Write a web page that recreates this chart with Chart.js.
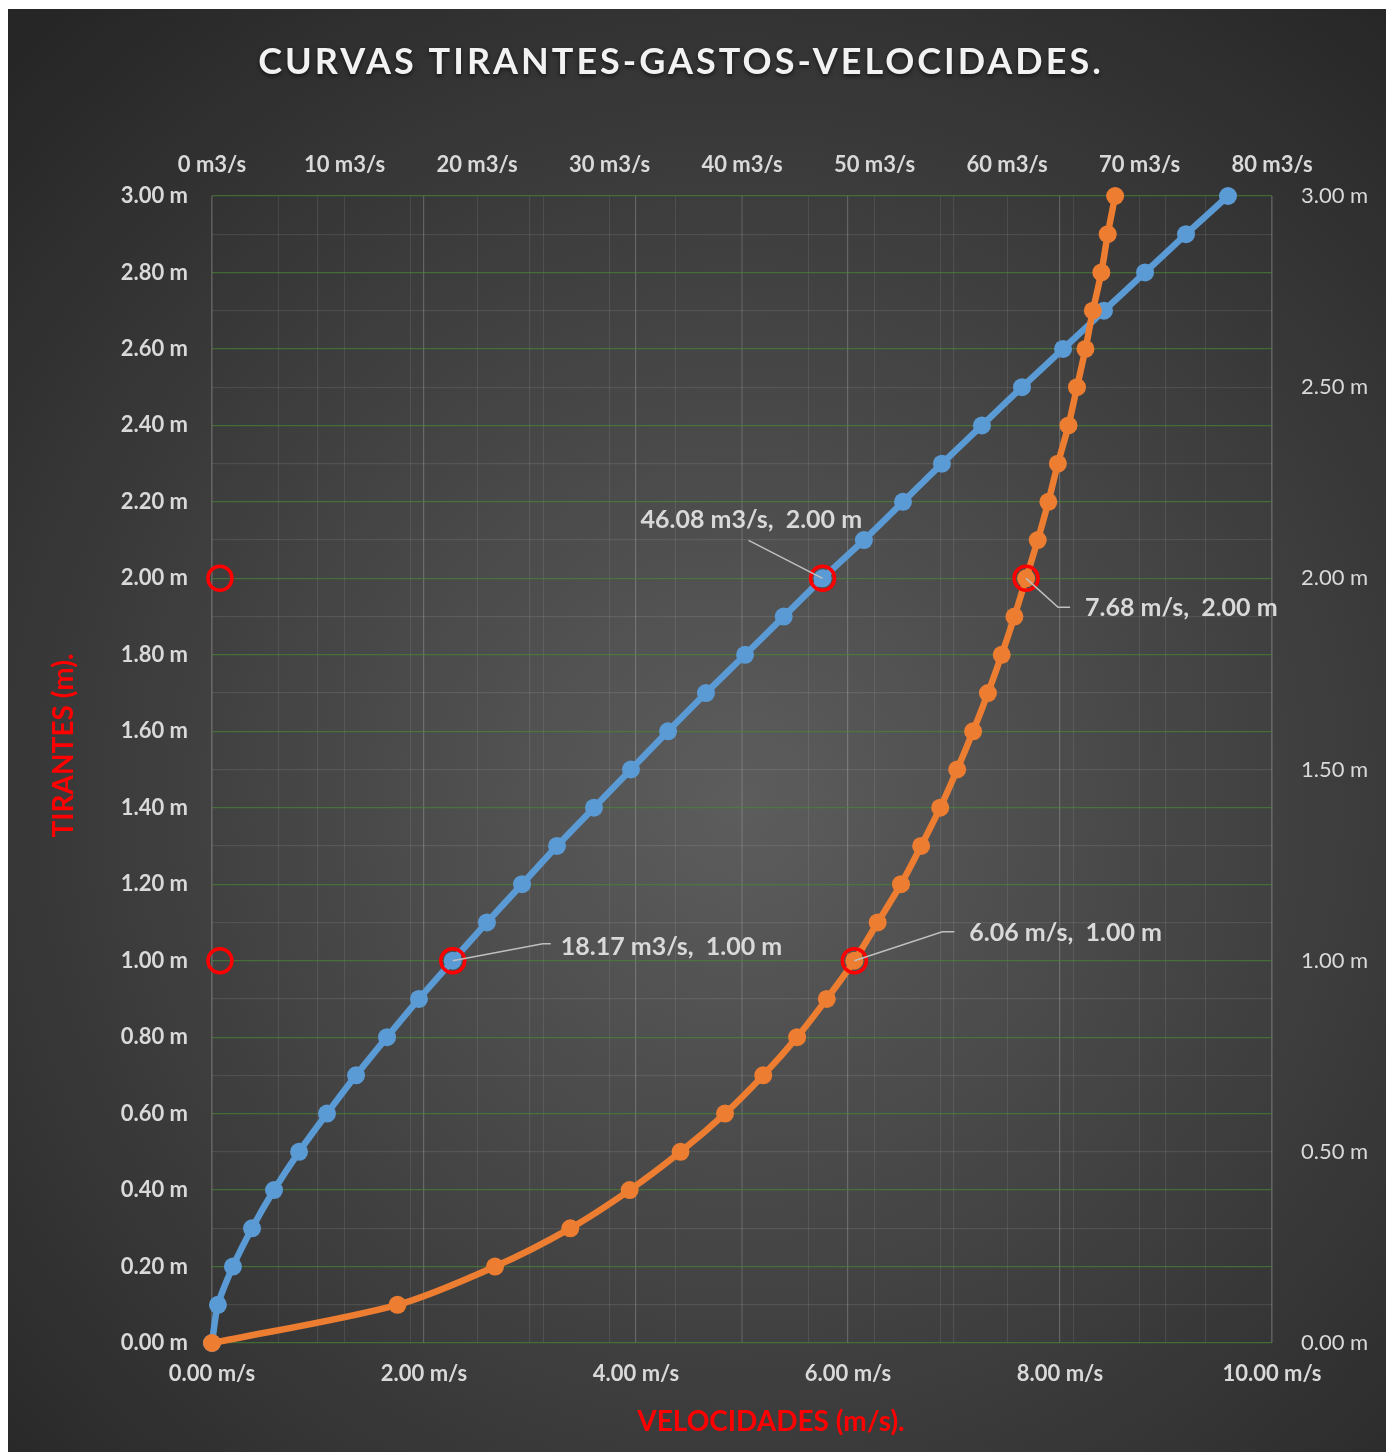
<!DOCTYPE html>
<html lang="es">
<head>
<meta charset="utf-8">
<title>Curvas tirantes-gastos-velocidades</title>
<script src="https://cdn.jsdelivr.net/npm/chart.js@4.4.1/dist/chart.umd.min.js"></script>
<style>
  html, body { margin: 0; padding: 0; background: #ffffff; }
  #marco { position: absolute; left: 8px; top: 9px; width: 1378px; height: 1443px; }
</style>
</head>
<body>
<div id="marco"><canvas id="curvas" width="1378" height="1443"></canvas></div>
<script>
// Tirantes (m), cada 0.10 m
const tirantes = [0.00, 0.10, 0.20, 0.30, 0.40, 0.50, 0.60, 0.70, 0.80, 0.90,
                  1.00, 1.10, 1.20, 1.30, 1.40, 1.50, 1.60, 1.70, 1.80, 1.90,
                  2.00, 2.10, 2.20, 2.30, 2.40, 2.50, 2.60, 2.70, 2.80, 2.90, 3.00];
// Gastos (m3/s) para cada tirante
const gastos = [0.00, 0.45, 1.58, 3.02, 4.68, 6.57, 8.68, 10.87, 13.21, 15.62,
                18.17, 20.75, 23.40, 26.04, 28.83, 31.62, 34.42, 37.28, 40.23, 43.15,
                46.08, 49.20, 52.15, 55.09, 58.11, 61.13, 64.23, 67.32, 70.42, 73.51, 76.68];
// Velocidades (m/s) para cada tirante
const velocidades = [0.00, 1.75, 2.67, 3.38, 3.94, 4.42, 4.84, 5.20, 5.52, 5.80,
                     6.06, 6.28, 6.50, 6.69, 6.87, 7.03, 7.18, 7.32, 7.45, 7.57,
                     7.68, 7.79, 7.89, 7.98, 8.08, 8.16, 8.24, 8.31, 8.39, 8.45, 8.52];
// Tirantes señalados con círculo rojo
const tirantesMarcados = [1.00, 2.00];
// Posición de las marcas junto al eje de tirantes (m/s)
const marcaEje = 0.075;

const AZUL = '#5b9bd5';
const NARANJA = '#ed7d31';
const ROJO = '#ff0000';
const TEXTO = '#d9d9d9';
const FUENTE = 'Lato, "Open Sans", sans-serif';

const puntos = (xs) => tirantes.map((t, i) => ({ x: xs[i], y: t }));
const marcados = (xs) => tirantesMarcados.map(t => ({ x: xs[tirantes.indexOf(t)], y: t }));

// Etiquetas de valor: desplazamientos de la guía y del texto respecto al punto
const etiquetas = [
  { serie: 'gastos', tirante: 2.00, unidad: 'm3/s', guia: [[-74, -38]], texto: [-182, -58] },
  { serie: 'gastos', tirante: 1.00, unidad: 'm3/s', guia: [[90, -17], [98, -17]], texto: [108, -14] },
  { serie: 'velocidades', tirante: 1.00, unidad: 'm/s', guia: [[88, -29], [100, -29]], texto: [115, -28] },
  { serie: 'velocidades', tirante: 2.00, unidad: 'm/s', guia: [[32, 29], [44, 29]], texto: [59, 30] }
];

const fondo = {
  id: 'fondo',
  beforeDraw(chart) {
    const { ctx, width, height } = chart;
    const cx = width * 0.53, cy = height * 0.55;
    const g = ctx.createRadialGradient(cx, cy, 0, cx, cy, Math.hypot(width, height) * 0.52);
    g.addColorStop(0, '#5d5d5d');
    g.addColorStop(1, '#262626');
    ctx.save();
    ctx.fillStyle = g;
    ctx.fillRect(0, 0, width, height);
    ctx.restore();
  }
};

const rotulos = {
  id: 'rotulos',
  afterDatasetsDraw(chart) {
    const { ctx } = chart;
    ctx.save();
    etiquetas.forEach(e => {
      const idx = chart.data.datasets.findIndex(d => d.id === e.serie);
      const i = tirantes.indexOf(e.tirante);
      const el = chart.getDatasetMeta(idx).data[i];
      const valor = chart.data.datasets[idx].data[i];
      ctx.strokeStyle = '#bfbfbf';
      ctx.lineWidth = 1.5;
      ctx.beginPath();
      ctx.moveTo(el.x, el.y);
      e.guia.forEach(([dx, dy]) => ctx.lineTo(el.x + dx, el.y + dy));
      ctx.stroke();
      ctx.fillStyle = TEXTO;
      ctx.font = 'bold 25px ' + FUENTE;
      ctx.textAlign = 'left';
      ctx.textBaseline = 'middle';
      ctx.fillText(valor.x.toFixed(2) + ' ' + e.unidad + ',  ' + valor.y.toFixed(2) + ' m',
                   el.x + e.texto[0], el.y + e.texto[1]);
    });
    ctx.restore();
  },
  afterDraw(chart) {
    const { ctx, chartArea, width } = chart;
    ctx.save();
    ctx.textAlign = 'center';
    ctx.textBaseline = 'middle';

    ctx.shadowColor = 'rgba(0,0,0,0.6)';
    ctx.shadowBlur = 4;
    ctx.shadowOffsetY = 2;
    ctx.fillStyle = '#f2f2f2';
    ctx.font = 'bold 36px ' + FUENTE;
    ctx.letterSpacing = '3px';
    ctx.fillText('CURVAS TIRANTES-GASTOS-VELOCIDADES.', width / 2 - 16, 53);
    ctx.letterSpacing = '0px';
    ctx.shadowColor = 'transparent';

    ctx.fillStyle = ROJO;
    ctx.font = 'bold 28px ' + FUENTE;
    ctx.fillText('VELOCIDADES (m/s).', (chartArea.left + chartArea.right) / 2 + 29, chartArea.bottom + 79);
    ctx.translate(chartArea.left - 148, (chartArea.top + chartArea.bottom) / 2 - 24);
    ctx.rotate(-Math.PI / 2);
    ctx.fillText('TIRANTES (m).', 0, 0);
    ctx.restore();
  }
};

const fuenteEje = { family: FUENTE, size: 22, weight: 'bold' };
const lineaMenor = 'rgba(255,255,255,0.09)';
const anillo = {
  showLine: false, pointRadius: 12, pointHoverRadius: 12, pointBorderWidth: 3.5,
  pointBorderColor: ROJO, pointBackgroundColor: 'rgba(0,0,0,0)', clip: false, order: 0
};

new Chart(document.getElementById('curvas'), {
  type: 'scatter',
  data: {
    datasets: [
      Object.assign({ id: 'marcas-gastos', data: marcados(gastos), xAxisID: 'x2', yAxisID: 'y' }, anillo),
      Object.assign({ id: 'marcas-velocidades', data: marcados(velocidades), xAxisID: 'x', yAxisID: 'y' }, anillo),
      Object.assign({ id: 'marcas-eje', data: tirantesMarcados.map(t => ({ x: marcaEje, y: t })), xAxisID: 'x', yAxisID: 'y' }, anillo),
      {
        id: 'velocidades', label: 'Velocidades', data: puntos(velocidades), xAxisID: 'x', yAxisID: 'y',
        showLine: true, tension: 0.3, borderColor: NARANJA, borderWidth: 6.5,
        pointRadius: 9, pointHoverRadius: 9, pointBackgroundColor: NARANJA, pointBorderWidth: 0,
        clip: false, order: 1
      },
      {
        id: 'gastos', label: 'Gastos', data: puntos(gastos), xAxisID: 'x2', yAxisID: 'y',
        showLine: true, tension: 0.3, borderColor: AZUL, borderWidth: 6.5,
        pointRadius: 9, pointHoverRadius: 9, pointBackgroundColor: AZUL, pointBorderWidth: 0,
        clip: false, order: 2
      }
    ]
  },
  options: {
    responsive: false,
    animation: false,
    layout: { padding: { top: 74, left: 0, right: 0, bottom: 0 } },
    plugins: { legend: { display: false }, tooltip: { enabled: false }, title: { display: false } },
    scales: {
      x: {
        type: 'linear', position: 'bottom', min: 0, max: 10,
        afterFit: s => { s.height = 109; },
        border: { display: false },
        grid: {
          drawTicks: false, lineWidth: 1.2,
          color: c => (Math.round(c.tick.value) % 2 === 0 ? 'rgba(255,255,255,0.2)' : lineaMenor)
        },
        ticks: {
          stepSize: 1, autoSkip: false, maxRotation: 0, padding: 18, color: TEXTO, font: fuenteEje,
          callback: v => (Math.round(v) % 2 === 0 ? v.toFixed(2) + ' m/s' : '')
        }
      },
      x2: {
        type: 'linear', position: 'top', min: 0, max: 80,
        afterFit: s => { s.height = 113; },
        border: { display: false },
        grid: { drawTicks: false, color: lineaMenor },
        ticks: {
          stepSize: 5, autoSkip: false, maxRotation: 0, padding: 18, color: TEXTO, font: fuenteEje,
          callback: v => (Math.round(v) % 10 === 0 ? v + ' m3/s' : '')
        }
      },
      y: {
        type: 'linear', position: 'left', min: 0, max: 3,
        afterFit: s => { s.width = 204; },
        border: { display: false },
        grid: {
          drawTicks: false, lineWidth: 1.2,
          color: c => (Math.round(c.tick.value * 10) % 2 === 0 ? 'rgba(72,135,52,0.65)' : lineaMenor)
        },
        ticks: {
          stepSize: 0.1, autoSkip: false, padding: 24, color: TEXTO, font: fuenteEje,
          callback: v => (Math.round(v * 10) % 2 === 0 ? v.toFixed(2) + ' m' : '')
        }
      },
      y2: {
        type: 'linear', position: 'right', min: 0, max: 3,
        afterFit: s => { s.width = 114; },
        border: { display: false },
        grid: { display: false, drawTicks: false },
        ticks: {
          stepSize: 0.5, padding: 29, color: TEXTO,
          font: { family: FUENTE, size: 22, weight: 'normal' },
          callback: v => v.toFixed(2) + ' m'
        }
      }
    }
  },
  plugins: [fondo, rotulos]
});
</script>
</body>
</html>
